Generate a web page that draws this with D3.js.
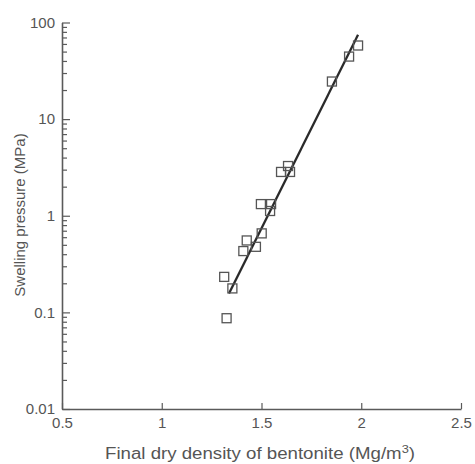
<!DOCTYPE html>
<html>
<head>
<meta charset="utf-8">
<script src="https://cdn.jsdelivr.net/npm/d3@7"></script>
<style>
  html, body { margin: 0; padding: 0; background: #fff; }
  svg { display: block; }
  text { font-family: "Liberation Sans", Arial, Helvetica, sans-serif; }
</style>
</head>
<body>
<svg id="chart" width="475" height="464"></svg>
<script>
// Data
const density  = [1.313, 1.354, 1.325, 1.409, 1.426, 1.472, 1.501, 1.497, 1.548, 1.543, 1.598, 1.633, 1.643, 1.853, 1.939, 1.984];
const pressure = [0.233, 0.177, 0.087, 0.431, 0.555, 0.477, 0.657, 1.32, 1.32, 1.12, 2.84, 3.27, 2.84, 24.5, 44.4, 57.8];
const fitDensity  = [1.337, 1.984];
const fitPressure = [0.157, 74.5];
const xTicks = [0.5, 1, 1.5, 2, 2.5];
const yTicks = [0.01, 0.1, 1, 10, 100];
const yTickLabels = ["0.01", "0.1", "1", "10", "100"];

const svg = d3.select("#chart");
const x = d3.scaleLinear().domain([0.5, 2.5]).range([62, 461]);
const y = d3.scaleLog().domain([0.01, 100]).range([409, 22.5]);

const axisColor = "#5a5a5a";
const textColor = "#555";

// minor y ticks
const minor = [];
for (let e = -2; e < 2; e++) for (let m = 2; m <= 9; m++) minor.push(m * Math.pow(10, e));

const gyMinor = svg.append("g").attr("transform", `translate(${x(0.5)},0)`)
  .call(d3.axisLeft(y).tickValues(minor).tickSize(-5).tickFormat(""));
gyMinor.select(".domain").remove();

const gy = svg.append("g").attr("transform", `translate(${x(0.5)},0)`)
  .call(d3.axisLeft(y).tickValues(yTicks).tickSize(-8).tickSizeOuter(0).tickPadding(7)
    .tickFormat((d, i) => yTickLabels[i]));

const gx = svg.append("g").attr("transform", `translate(0,${y(0.01)})`)
  .call(d3.axisBottom(x).tickValues(xTicks).tickSize(-6).tickSizeOuter(0).tickPadding(8)
    .tickFormat(d3.format("")));

[gy, gx, gyMinor].forEach(g => {
  g.selectAll("path.domain").attr("stroke", axisColor).attr("stroke-width", 1.6);
  g.selectAll(".tick line").attr("stroke", axisColor).attr("stroke-width", 1.2);
  g.selectAll(".tick text").attr("fill", textColor).style("font-size", "15px");
});

// axis titles
svg.append("text")
  .attr("x", 105).attr("y", 459)
  .attr("text-anchor", "start")
  .attr("fill", textColor)
  .attr("textLength", 310)
  .attr("lengthAdjust", "spacingAndGlyphs")
  .style("font-size", "16px")
  .html('Final dry density of bentonite (Mg/m<tspan dy="-6" style="font-size:11px">3</tspan><tspan dy="6">)</tspan>');

svg.append("text")
  .attr("transform", "translate(25,215) rotate(-90)")
  .attr("text-anchor", "middle")
  .attr("fill", textColor)
  .style("font-size", "15px")
  .text("Swelling pressure (MPa)");

// fit line
const fit = fitDensity.map((d, i) => [d, fitPressure[i]]);
svg.append("path")
  .datum(fit)
  .attr("fill", "none")
  .attr("stroke", "#2a2a2a")
  .attr("stroke-width", 2.3)
  .attr("d", d3.line().x(d => x(d[0])).y(d => y(d[1])));

// squares
const s = 9;
svg.append("g").selectAll("rect")
  .data(density.map((d, i) => [d, pressure[i]]))
  .join("rect")
  .attr("x", d => x(d[0]) - s / 2)
  .attr("y", d => y(d[1]) - s / 2)
  .attr("width", s).attr("height", s)
  .attr("fill", "none")
  .attr("stroke", "#555")
  .attr("stroke-width", 1.3);
</script>
</body>
</html>
